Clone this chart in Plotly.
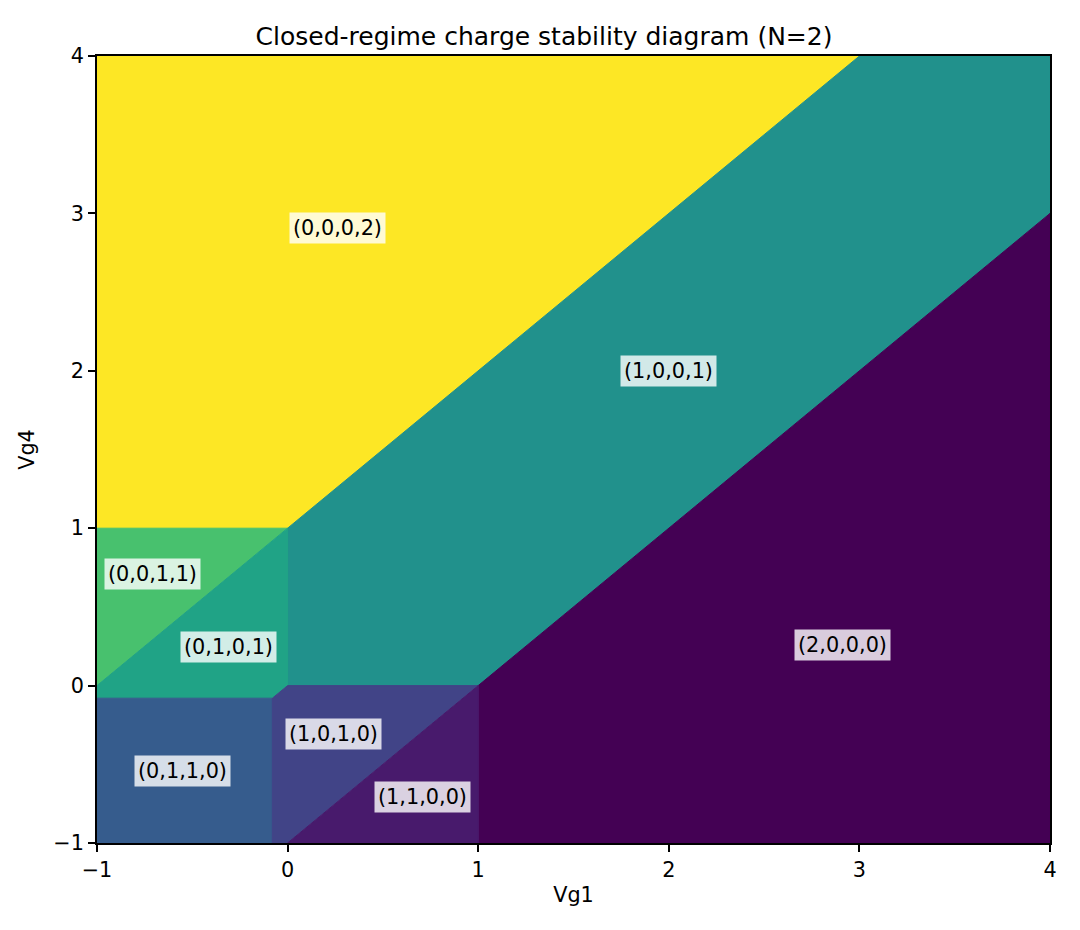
import plotly.graph_objects as go

# charge states and their colours (viridis-style as in the reference)
states = ["(0,0,0,2)", "(1,0,0,1)", "(2,0,0,0)", "(0,0,1,1)",
          "(0,1,0,1)", "(0,1,1,0)", "(1,0,1,0)", "(1,1,0,0)"]
colors = ["#fde725", "#21918c", "#440154", "#48c16e",
          "#20a386", "#365c8d", "#414487", "#481a6c"]

# region corners in (Vg1, Vg4) gate-voltage units, one list per state
vg1_corners = [
    [-1, 0, 3, -1],
    [0, 0, 3, 4, 4, 1],
    [1, 4, 4, 1],
    [-1, 0, -1],
    [-1, -0.08, 0, 0, -1],
    [-1, -0.08, -0.08, -1],
    [-0.08, 0, 1, 0, -0.08],
    [0, 1, 1],
]
vg4_corners = [
    [1, 1, 4, 4],
    [0, 1, 4, 4, 3, 0],
    [0, 3, -1, -1],
    [0, 1, 1],
    [-0.08, -0.08, 0, 1, 0],
    [-1, -1, -0.08, -0.08],
    [-1, -1, 0, 0, -0.08],
    [-1, 0, -1],
]

# where each label sits
label_vg1 = [0.26, 2.0, 2.91, -0.71, -0.31, -0.55, 0.24, 0.71]
label_vg4 = [2.91, 2.0, 0.26, 0.71, 0.245, -0.54, -0.31, -0.71]

fig = go.Figure()
for i in range(len(states)):
    xs = vg1_corners[i] + [vg1_corners[i][0]]
    ys = vg4_corners[i] + [vg4_corners[i][0]]
    fig.add_trace(go.Scatter(
        x=xs, y=ys, mode="lines", fill="toself",
        fillcolor=colors[i], line=dict(color=colors[i], width=1),
        hoverinfo="skip", showlegend=False))

annots = []
for i in range(len(states)):
    annots.append(dict(
        x=label_vg1[i], y=label_vg4[i], xref="x", yref="y",
        text=states[i], showarrow=False,
        font=dict(family="DejaVu Sans", size=20.8, color="black"),
        bgcolor="rgba(255,255,255,0.8)", borderpad=3))

axis_style = dict(
    range=[-1, 4], tickmode="array", tickvals=[-1, 0, 1, 2, 3, 4],
    showgrid=False, zeroline=False, showline=True, linecolor="black",
    linewidth=1.6, mirror=True, ticks="outside", ticklen=7, tickwidth=1.6,
    tickcolor="black", tickfont=dict(family="DejaVu Sans", size=20.8, color="black"),
)

fig.update_layout(
    width=1072, height=922,
    margin=dict(l=89, r=30, t=48, b=87),
    paper_bgcolor="white", plot_bgcolor="white",
    title=dict(text="Closed-regime charge stability diagram (N=2)",
               x=0.5, xanchor="center", y=0.9696, yanchor="middle",
               font=dict(family="DejaVu Sans", size=25, color="black")),
    xaxis=dict(axis_style, title=dict(text="Vg1", standoff=7,
               font=dict(family="DejaVu Sans", size=20.8, color="black"))),
    yaxis=dict(axis_style, title=dict(text="Vg4", standoff=13,
               font=dict(family="DejaVu Sans", size=20.8, color="black"))),
    annotations=annots,
)

fig.write_html("out.html")
